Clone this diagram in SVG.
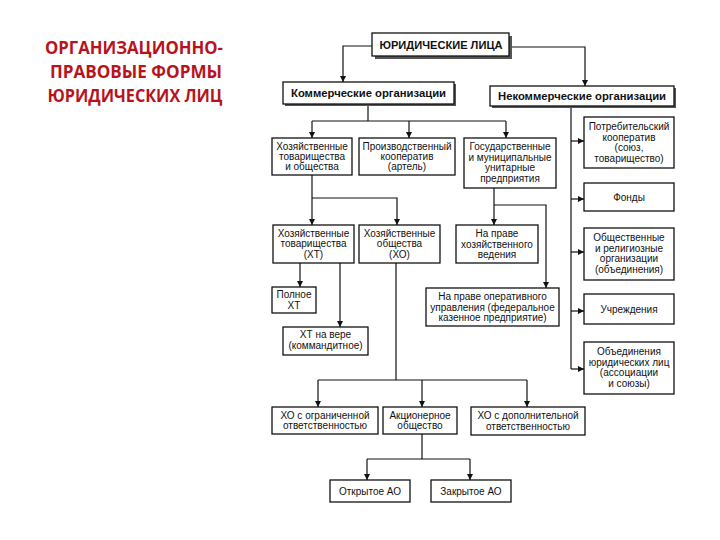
<svg xmlns="http://www.w3.org/2000/svg" width="720" height="540" viewBox="0 0 720 540">
<defs>
<marker id="ah" viewBox="0 0 6 6" refX="6" refY="3" markerWidth="6" markerHeight="6" markerUnits="userSpaceOnUse" orient="auto">
<path d="M0,0 L6,3 L0,6 Z" fill="#111"/>
</marker>
</defs>
<style>
.b{fill:#fff;stroke:#111;stroke-width:1.3}
.sh{fill:#555}
.t{font-family:"Liberation Sans",Arial,sans-serif;font-size:10px;fill:#111;text-anchor:middle}
.h{font-family:"Liberation Sans",Arial,sans-serif;font-size:10.5px;font-weight:bold;fill:#111;text-anchor:middle}
.c{fill:none;stroke:#111;stroke-width:1.2}
.a{fill:none;stroke:#111;stroke-width:1.2;marker-end:url(#ah)}
.title{font-family:"Open Sans","Noto Sans",sans-serif;font-size:17px;font-weight:bold;fill:#b8131c;text-anchor:middle}
</style>
<rect width="720" height="540" fill="#fff"/>
<g id="title">
<text class="title" x="134" y="54" textLength="178" lengthAdjust="spacingAndGlyphs">ОРГАНИЗАЦИОННО-</text>
<text class="title" x="136" y="77.5" textLength="172" lengthAdjust="spacingAndGlyphs">ПРАВОВЫЕ ФОРМЫ</text>
<text class="title" x="135" y="102" textLength="175" lengthAdjust="spacingAndGlyphs">ЮРИДИЧЕСКИХ ЛИЦ</text>
</g>
<g id="connectors">
<path class="a" d="M372,46 H343 V82"/>
<path class="a" d="M509,47 H585 V86"/>
<path class="c" d="M368,104 V121 M312,121 H506"/>
<path class="a" d="M312,121 V138"/>
<path class="a" d="M409,121 V138"/>
<path class="a" d="M506,121 V138"/>
<path class="c" d="M571,106 V369"/>
<path class="a" d="M571,141 H584"/>
<path class="a" d="M571,199 H584"/>
<path class="a" d="M571,252 H584"/>
<path class="a" d="M571,311 H584"/>
<path class="a" d="M571,369 H584"/>
<path class="a" d="M312,175 V225"/>
<path class="a" d="M312,198 H397 V225"/>
<path class="a" d="M494,188 V225"/>
<path class="a" d="M494,205 H546 V288"/>
<path class="a" d="M300,263 V287"/>
<path class="a" d="M340,263 V327"/>
<path class="c" d="M396,263 V380 M318,380 H527"/>
<path class="a" d="M318,380 V407"/>
<path class="a" d="M422,380 V407"/>
<path class="a" d="M527,380 V407"/>
<path class="c" d="M422,434 V459 M367,459 H470"/>
<path class="a" d="M367,459 V480"/>
<path class="a" d="M470,459 V480"/>
</g>
<g id="n-legal">
<rect class="sh" x="375" y="36" width="137" height="23"/>
<rect class="b" x="372" y="33" width="137" height="23"/>
<text class="h" x="441" y="49" textLength="123" lengthAdjust="spacingAndGlyphs">ЮРИДИЧЕСКИЕ ЛИЦА</text>
</g>
<g id="n-comm">
<rect class="sh" x="285" y="84" width="171" height="22"/>
<rect class="b" x="283" y="82" width="171" height="22"/>
<text class="h" x="368.5" y="97" textLength="155" lengthAdjust="spacingAndGlyphs">Коммерческие организации</text>
</g>
<g id="n-noncomm">
<rect class="sh" x="492" y="88" width="184" height="20"/>
<rect class="b" x="490" y="86" width="184" height="20"/>
<text class="h" x="582" y="100" textLength="168" lengthAdjust="spacingAndGlyphs">Некоммерческие организации</text>
</g>
<g id="n-hto">
<rect class="b" x="272" y="138" width="80" height="37"/>
<text class="t" x="312" y="150">Хозяйственные</text>
<text class="t" x="312" y="160">товарищества</text>
<text class="t" x="312" y="170">и общества</text>
</g>
<g id="n-coop">
<rect class="b" x="359" y="138" width="96" height="37"/>
<text class="t" x="407" y="150">Производственный</text>
<text class="t" x="407" y="160">кооператив</text>
<text class="t" x="407" y="170">(артель)</text>
</g>
<g id="n-gos">
<rect class="b" x="464" y="138" width="92" height="50"/>
<text class="t" x="510" y="150">Государственные</text>
<text class="t" x="510" y="160.5">и муниципальные</text>
<text class="t" x="510" y="171">унитарные</text>
<text class="t" x="510" y="181.5">предприятия</text>
</g>
<g id="n-potreb">
<rect class="b" x="584" y="117" width="90" height="51"/>
<text class="t" x="629" y="130">Потребительский</text>
<text class="t" x="629" y="140.5">кооператив</text>
<text class="t" x="629" y="151">(союз,</text>
<text class="t" x="629" y="161.5">товарищество)</text>
</g>
<g id="n-fondy">
<rect class="b" x="584" y="183" width="90" height="28"/>
<text class="t" x="629" y="200.5">Фонды</text>
</g>
<g id="n-obsh">
<rect class="b" x="584" y="228" width="90" height="52"/>
<text class="t" x="629" y="241">Общественные</text>
<text class="t" x="629" y="251.5">и религиозные</text>
<text class="t" x="629" y="262">организации</text>
<text class="t" x="629" y="272.5">(объединения)</text>
</g>
<g id="n-uchr">
<rect class="b" x="584" y="294" width="90" height="30"/>
<text class="t" x="629" y="312.5">Учреждения</text>
</g>
<g id="n-obyed">
<rect class="b" x="584" y="342" width="90" height="52"/>
<text class="t" x="629" y="355">Объединения</text>
<text class="t" x="629" y="365.5">юридических лиц</text>
<text class="t" x="629" y="376">(ассоциации</text>
<text class="t" x="629" y="386.5">и союзы)</text>
</g>
<g id="n-ht">
<rect class="b" x="273" y="225" width="81" height="38"/>
<text class="t" x="313.5" y="237">Хозяйственные</text>
<text class="t" x="313.5" y="247">товарищества</text>
<text class="t" x="313.5" y="258">(ХТ)</text>
</g>
<g id="n-ho">
<rect class="b" x="359" y="225" width="81" height="38"/>
<text class="t" x="399.5" y="237">Хозяйственные</text>
<text class="t" x="399.5" y="247">общества</text>
<text class="t" x="399.5" y="258">(ХО)</text>
</g>
<g id="n-hozved">
<rect class="b" x="456" y="225" width="82" height="38"/>
<text class="t" x="497" y="237">На праве</text>
<text class="t" x="497" y="247.5">хозяйственного</text>
<text class="t" x="497" y="258">ведения</text>
</g>
<g id="n-full">
<rect class="b" x="272" y="287" width="44" height="26"/>
<text class="t" x="294" y="298">Полное</text>
<text class="t" x="294" y="308.5">ХТ</text>
</g>
<g id="n-vera">
<rect class="b" x="283" y="327" width="85" height="28"/>
<text class="t" x="325.5" y="338">ХТ на вере</text>
<text class="t" x="325.5" y="349">(коммандитное)</text>
</g>
<g id="n-oper">
<rect class="b" x="426" y="288" width="133" height="38"/>
<text class="t" x="492.5" y="300">На праве оперативного</text>
<text class="t" x="492.5" y="310.5">управления (федеральное</text>
<text class="t" x="492.5" y="321">казенное предприятие)</text>
</g>
<g id="n-ooo">
<rect class="b" x="272" y="407" width="106" height="27"/>
<text class="t" x="325" y="418.5">ХО с ограниченной</text>
<text class="t" x="325" y="429">ответственностью</text>
</g>
<g id="n-ao">
<rect class="b" x="383" y="407" width="74" height="27"/>
<text class="t" x="420" y="418.5">Акционерное</text>
<text class="t" x="420" y="429">общество</text>
</g>
<g id="n-odo">
<rect class="b" x="471" y="407" width="114" height="28"/>
<text class="t" x="528" y="419">ХО с дополнительной</text>
<text class="t" x="528" y="429.5">ответственностью</text>
</g>
<g id="n-oao">
<rect class="b" x="330" y="480" width="80" height="22"/>
<text class="t" x="370" y="494.5">Открытое АО</text>
</g>
<g id="n-zao">
<rect class="b" x="431" y="480" width="80" height="22"/>
<text class="t" x="471" y="494.5">Закрытое АО</text>
</g>
</svg>
